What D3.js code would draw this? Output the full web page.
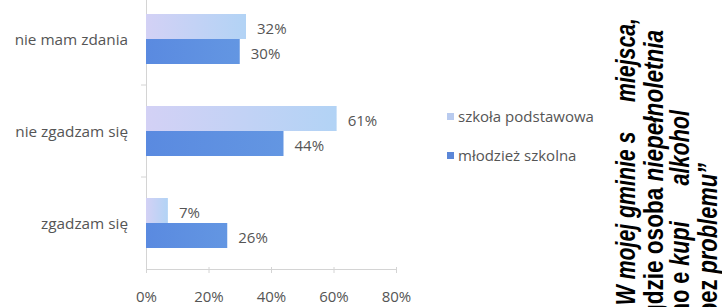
<!DOCTYPE html>
<html><head><meta charset="utf-8">
<script src="https://cdn.jsdelivr.net/npm/d3@7"></script>
<style>
html,body{margin:0;padding:0;background:#fff;}
svg{display:block;}
</style></head>
<body>
<script>
const categories = ["nie mam zdania", "nie zgadzam się", "zgadzam się"];
const seriesNames = ["szkoła podstawowa", "młodzież szkolna"];
const szkolaPodstawowa = [0.32, 0.61, 0.07];
const mlodziezSzkolna = [0.30, 0.44, 0.26];
const xTicks = [0, 0.2, 0.4, 0.6, 0.8];
// side caption lines: [text, italic]
const sideLine1 = [["„W mojej gminie s     miejsca,", true]];
const sideLine2 = [["gdzie osoba ", false], ["niepełnoletnia", true]];
const sideLine3 = [["mo e ", false], ["kupi      alkohol", true]];
const sideLine4 = [["bez ", false], ["problemu”", true]];
const sideLines = [sideLine1, sideLine2, sideLine3, sideLine4];

const W = 722, H = 307;
const svg = d3.select("body").append("svg").attr("width", W).attr("height", H);
const defs = svg.append("defs");
const g1 = defs.append("linearGradient").attr("id", "gLight").attr("x1", "0%").attr("x2", "100%");
g1.append("stop").attr("offset", "0%").attr("stop-color", "#d3d1f5");
g1.append("stop").attr("offset", "100%").attr("stop-color", "#b2d3f5");
const g2 = defs.append("linearGradient").attr("id", "gDark").attr("x1", "0%").attr("x2", "100%");
g2.append("stop").attr("offset", "0%").attr("stop-color", "#5a8ae0");
g2.append("stop").attr("offset", "100%").attr("stop-color", "#6396e2");

const x = d3.scaleLinear().domain([0, 0.8]).range([146, 396]);
const y = d3.scaleBand().domain(categories).range([-7, 269]);
const inner = d3.scaleBand().domain(seriesNames).range([0, 50]);
const fills = ["url(#gLight)", "url(#gDark)"];
const values = [szkolaPodstawowa, mlodziezSzkolna];
const font = "'Open Sans', sans-serif";
const txt = "#555555";

// axes
const xAxis = d3.axisBottom(x).tickValues(xTicks).tickFormat(d3.format(".0%")).tickSize(4).tickSizeOuter(0);
const gx = svg.append("g").attr("transform", "translate(0,269)").call(xAxis);
gx.select(".domain").attr("stroke", "#d4d4d4");
gx.selectAll(".tick line").attr("stroke", "#d4d4d4").attr("y1", -2);
gx.selectAll(".tick text").attr("font-family", font).attr("font-size", 15).attr("fill", txt).attr("y", 22).attr("dy", "0.71em");

const yAxis = d3.axisLeft(y).tickSize(0).tickFormat("");
const gy = svg.append("g").attr("transform", "translate(146,0)").call(yAxis);
gy.select(".domain").attr("stroke", "#d4d4d4");
svg.selectAll(".sep").data(categories.slice(1)).enter().append("line")
  .attr("x1", 141).attr("x2", 146)
  .attr("y1", d => y(d)).attr("y2", d => y(d))
  .attr("stroke", "#d4d4d4");

// category labels
svg.selectAll(".cat").data(categories).enter().append("text")
  .attr("x", 128).attr("y", d => y(d) + y.bandwidth() / 2 + 1)
  .attr("dy", "0.35em").attr("text-anchor", "end")
  .attr("font-family", font).attr("font-size", 15.3).attr("fill", txt)
  .text(d => d);

// bars
seriesNames.forEach((s, si) => {
  const gs = svg.append("g");
  const off = (y.bandwidth() - 50) / 2;
  gs.selectAll("rect").data(categories).enter().append("rect")
    .attr("x", x(0)).attr("y", (d) => y(d) + off + inner(s))
    .attr("width", (d, i) => x(values[si][i]) - x(0))
    .attr("height", inner.bandwidth())
    .attr("fill", fills[si]);
  gs.selectAll("text").data(categories).enter().append("text")
    .attr("x", (d, i) => x(values[si][i]) + 11)
    .attr("y", (d) => y(d) + off + inner(s) + inner.bandwidth() / 2 + 2)
    .attr("dy", "0.35em")
    .attr("font-family", font).attr("font-size", 15).attr("fill", txt)
    .text((d, i) => d3.format(".0%")(values[si][i]));
});

// legend
const legColors = ["#b9cbef", "#5b87d8"];
const leg = svg.append("g");
seriesNames.forEach((s, i) => {
  const ly = 117 + i * 39;
  leg.append("rect").attr("x", 447).attr("y", ly - 4).attr("width", 7).attr("height", 7).attr("fill", legColors[i]);
  leg.append("text").attr("x", 458).attr("y", ly).attr("dy", "0.35em")
    .attr("font-family", font).attr("font-size", 15).attr("fill", txt).text(s);
});

// rotated side text (condensed along reading direction)
const tops = [18, 30, 110, 163];
const bases = [635, 662.5, 689, 717];
const lens = [298, 288, 212, 153];
sideLines.forEach((segs, i) => {
  const t = svg.append("text")
    .attr("transform", `translate(${bases[i]},${tops[i]}) rotate(-90)`)
    .attr("text-anchor", "end")
    .attr("textLength", lens[i]).attr("lengthAdjust", "spacingAndGlyphs")
    .attr("font-family", "'Liberation Sans', Arial, sans-serif")
    .attr("font-size", 28).attr("font-weight", "bold")
    .attr("fill", "#000").style("white-space", "pre");
  segs.forEach(([s, it]) => {
    t.append("tspan").attr("font-style", it ? "italic" : "normal").text(s);
  });
});
</script>
</body></html>
